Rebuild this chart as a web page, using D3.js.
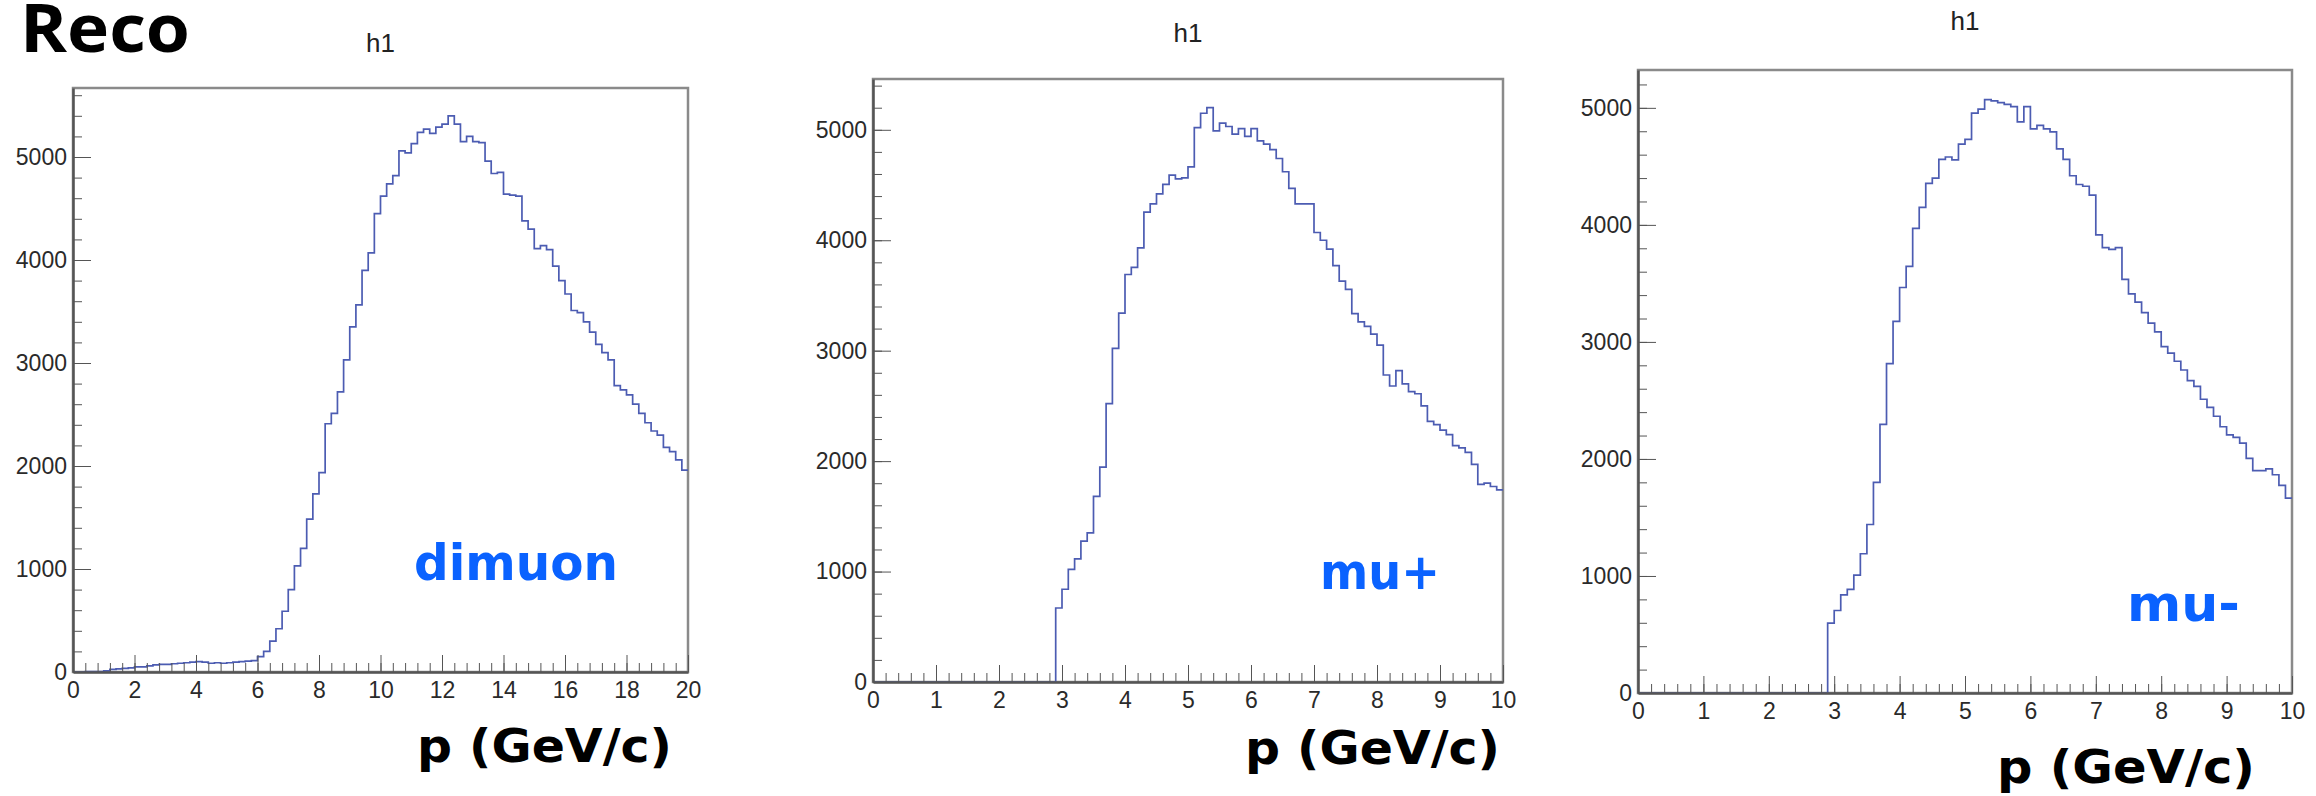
<!DOCTYPE html>
<html>
<head>
<meta charset="utf-8">
<script src="https://cdn.jsdelivr.net/npm/d3@7"></script>
<style>
    body { margin: 0; background: #fff; }
    svg { display: block; background: #fff; }
    .tick text { fill: #2a2a2a; }
</style>
</head>
<body>
<div id="chart"></div>
<script>
// bin contents, 100 bins each
const dimuonCounts = [
    0, 0, 5, 5, 5, 10, 25, 30, 35, 40, 50, 50, 60, 70, 75, 75, 80, 85, 90, 95,
    100, 95, 85, 90, 85, 90, 95, 100, 105, 110,
    150, 200, 300, 420, 590, 800, 1030, 1200, 1485, 1730,
    1935, 2410, 2510, 2720, 3030, 3350, 3565, 3900, 4070, 4450,
    4620, 4740, 4820, 5060, 5040, 5130, 5240, 5270, 5230, 5290,
    5320, 5400, 5320, 5150, 5200, 5150, 5140, 4960, 4840, 4850,
    4640, 4630, 4620, 4380, 4300, 4110, 4140, 4100, 3940, 3800,
    3670, 3510, 3490, 3400, 3300, 3180, 3100, 3030, 2780, 2740,
    2690, 2600, 2510, 2420, 2340, 2300, 2180, 2140, 2060, 1960
];

const muPlusCounts = [
    0, 0, 0, 0, 0, 0, 0, 0, 0, 0, 0, 0, 0, 0, 0, 0, 0, 0, 0, 0,
    0, 0, 0, 0, 0, 0, 0, 0, 0,
    670, 840, 1020, 1115, 1275, 1350, 1680, 1945, 2520, 3020, 3340,
    3690, 3755, 3930, 4255, 4330, 4420, 4505, 4590, 4555, 4565,
    4665, 5020, 5150, 5200, 4990, 5060, 5030, 4960, 5010, 4940,
    5010, 4900, 4870, 4820, 4740, 4620, 4470, 4330, 4330, 4330,
    4070, 4000, 3920, 3770, 3630, 3555, 3335, 3260, 3220, 3150,
    3050, 2780, 2680, 2820, 2700, 2630, 2610, 2500, 2360, 2330,
    2280, 2240, 2140, 2120, 2080, 1970, 1790, 1800, 1770, 1740
];

const muMinusCounts = [
    0, 0, 0, 0, 0, 0, 0, 0, 0, 0, 0, 0, 0, 0, 0, 0, 0, 0, 0, 0,
    0, 0, 0, 0, 0, 0, 0, 0, 0,
    597, 705, 838, 885, 1007, 1190, 1440, 1800, 2295, 2815, 3175,
    3465, 3645, 3970, 4150, 4355, 4400, 4560, 4580, 4555, 4690,
    4730, 4955, 4990, 5070, 5060, 5045, 5030, 5010, 4880, 5010,
    4820, 4850, 4820, 4795, 4650, 4560, 4420, 4345, 4330, 4255,
    3915, 3805, 3790, 3805, 3535, 3410, 3340, 3250, 3160, 3085,
    2960, 2905, 2835, 2760, 2670, 2620, 2510, 2440, 2365, 2275,
    2205, 2185, 2135, 2005, 1900, 1900, 1915, 1865, 1775, 1665
];

const dimuonRange = [0, 20];
const muonRange = [0, 10];

const dimuonXTicks = [0, 2, 4, 6, 8, 10, 12, 14, 16, 18, 20];
const muonXTicks = [0, 1, 2, 3, 4, 5, 6, 7, 8, 9, 10];
const yTicks = [0, 1000, 2000, 3000, 4000, 5000];

const pageTitle = 'Reco';
const histTitle = 'h1';
const xTitle = 'p (GeV/c)';
const sampleNames = ['dimuon', 'mu+', 'mu-'];


class HistPanel {
    #scaleX;
    #scaleY;

    constructor(svg, frame) {
        this.frame = frame; // { left, right, top, bottom, titleY }
        this.g = svg.append('g').classed('hist-panel', true);
    }

    render(counts, range, majorX, minorStepX) {
        const f = this.frame;
        const yMax = d3.max(counts) * 1.05; // ROOT leaves 5% headroom

        this.#scaleX = d3.scaleLinear().domain(range).range([f.left, f.right]);
        this.#scaleY = d3.scaleLinear().domain([0, yMax]).range([f.bottom, f.top]);

        const binWidth = (range[1] - range[0]) / counts.length;
        const steps = counts.map((v, i) => ({ k: range[0] + i * binWidth, v }));
        steps.push({ k: range[1], v: counts[counts.length - 1] });

        // frame
        this.g.append('rect')
            .attr('x', f.left)
            .attr('y', f.top)
            .attr('width', f.right - f.left)
            .attr('height', f.bottom - f.top)
            .attr('fill', 'none')
            .attr('stroke', '#8a8a8a')
            .attr('stroke-width', 2.5);

        // histogram outline
        const lineGen = d3.line()
            .x(d => this.#scaleX(d.k))
            .y(d => this.#scaleY(d.v))
            .curve(d3.curveStepAfter);

        this.g.append('path')
            .datum(steps)
            .attr('fill', 'none')
            .attr('stroke', '#4c5cb2')
            .attr('stroke-width', 1.7)
            .attr('d', lineGen);

        // minor ticks
        const minorX = d3.range(range[0], range[1] + 1e-9, minorStepX);
        const minorY = d3.range(0, yMax, 200);

        this.g.append('g')
            .attr('transform', `translate(0, ${f.bottom})`)
            .attr('color', '#555')
            .call(d3.axisBottom(this.#scaleX).tickValues(minorX).tickSize(-9).tickFormat(''))
            .call(g => g.select('.domain').remove());

        this.g.append('g')
            .attr('transform', `translate(${f.left}, 0)`)
            .attr('color', '#555')
            .call(d3.axisLeft(this.#scaleY).tickValues(minorY).tickSize(-9).tickFormat(''))
            .call(g => g.select('.domain').remove());

        // major axes
        this.g.append('g')
            .attr('transform', `translate(0, ${f.bottom})`)
            .attr('color', '#555')
            .call(d3.axisBottom(this.#scaleX).tickValues(majorX).tickFormat(d3.format('d'))
                .tickSizeInner(-17).tickSizeOuter(0).tickPadding(10))
            .call(g => g.select('.domain').attr('stroke-width', 2.5))
            .attr('font-size', 23)
            .attr('font-family', '"Liberation Sans", Arial, sans-serif');

        this.g.append('g')
            .attr('transform', `translate(${f.left}, 0)`)
            .attr('color', '#555')
            .call(d3.axisLeft(this.#scaleY).tickValues(yTicks).tickFormat(d3.format('d'))
                .tickSizeInner(-18).tickSizeOuter(0).tickPadding(6))
            .call(g => g.select('.domain').attr('stroke-width', 2.5))
            .attr('font-size', 23)
            .attr('font-family', '"Liberation Sans", Arial, sans-serif');

        // histogram title
        this.g.append('text')
            .attr('x', (f.left + f.right) / 2)
            .attr('y', f.titleY)
            .attr('text-anchor', 'middle')
            .attr('font-family', '"Liberation Sans", Arial, sans-serif')
            .attr('font-size', 26)
            .attr('fill', '#222')
            .text(histTitle);
    }

    addLabel(text, pos, opts) {
        this.g.append('text')
            .attr('x', pos[0])
            .attr('y', pos[1])
            .attr('font-family', '"DejaVu Sans", "Open Sans", sans-serif')
            .attr('font-weight', 700)
            .attr('font-size', opts.size)
            .attr('fill', opts.color)
            .attr('textLength', opts.width)
            .attr('lengthAdjust', 'spacingAndGlyphs')
            .text(text);
    }
}


const svg = d3.select('#chart')
    .append('svg')
    .attr('width', 2316)
    .attr('height', 796);

svg.append('text')
    .attr('x', 20)
    .attr('y', 52)
    .attr('font-family', '"Open Sans", sans-serif')
    .attr('font-weight', 700)
    .attr('font-size', 66)
    .attr('fill', '#000')
    .attr('textLength', 170)
    .attr('lengthAdjust', 'spacingAndGlyphs')
    .text(pageTitle);

const panels = [
    { counts: dimuonCounts, range: dimuonRange, ticks: dimuonXTicks, minor: 0.4,
      frame: { left: 73, right: 688, top: 88, bottom: 672, titleY: 52 },
      name: [414, 580, 204], axis: [417, 762, 255] },
    { counts: muPlusCounts, range: muonRange, ticks: muonXTicks, minor: 0.2,
      frame: { left: 873, right: 1503, top: 79, bottom: 682, titleY: 42 },
      name: [1320, 589, 120], axis: [1245, 764, 255] },
    { counts: muMinusCounts, range: muonRange, ticks: muonXTicks, minor: 0.2,
      frame: { left: 1638, right: 2292, top: 70, bottom: 693, titleY: 30 },
      name: [2127, 621, 113], axis: [1997, 783, 258] }
];

panels.forEach((p, i) => {
    const panel = new HistPanel(svg, p.frame);
    panel.render(p.counts, p.range, p.ticks, p.minor);
    panel.addLabel(sampleNames[i], [p.name[0], p.name[1]], { size: 50, color: '#0a62ff', width: p.name[2] });
    panel.addLabel(xTitle, [p.axis[0], p.axis[1]], { size: 46, color: '#000', width: p.axis[2] });
});
</script>
</body>
</html>
